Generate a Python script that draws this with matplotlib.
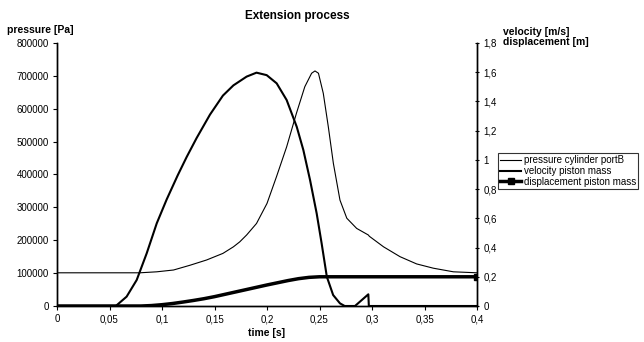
import matplotlib
matplotlib.use("Agg")
import matplotlib.pyplot as plt
from matplotlib.ticker import FuncFormatter
import numpy as np

plt.rcParams['font.family'] = ['Liberation Sans', 'DejaVu Sans']

# pressure at port B [Pa]
t_p = [0, 0.079, 0.095, 0.111, 0.1267, 0.1425, 0.158, 0.168, 0.174, 0.1806,
       0.19, 0.2, 0.209, 0.2187, 0.228, 0.236, 0.2425, 0.2457, 0.249, 0.2536,
       0.2584, 0.2632, 0.2695, 0.276, 0.2854, 0.2965, 0.2975, 0.311, 0.3267,
       0.3425, 0.3584, 0.3775, 0.4]
p = [101000, 101000, 104000, 109500, 124000, 140000, 160000, 180000, 195000,
     216000, 251000, 312000, 393000, 484000, 586000, 667000, 708000, 715000,
     708000, 647000, 545000, 434000, 322000, 267000, 236000, 216000, 212000,
     180000, 150000, 128000, 115000, 104000, 101000]

# piston velocity [m/s]
t_v = [0, 0.056, 0.0663, 0.0759, 0.0854, 0.095, 0.1045, 0.115, 0.1235, 0.133,
       0.1457, 0.158, 0.168, 0.1806, 0.19, 0.1997, 0.2092, 0.2187, 0.2283,
       0.2346, 0.241, 0.2473, 0.252, 0.257, 0.263, 0.2695, 0.274, 0.2838,
       0.2965, 0.297, 0.4]
v = [0, 0, 0.064, 0.178, 0.36, 0.566, 0.73, 0.895, 1.02, 1.15, 1.31, 1.44,
     1.51, 1.57, 1.597, 1.58, 1.524, 1.41, 1.227, 1.068, 0.862, 0.634, 0.43,
     0.2, 0.075, 0.018, 0, 0, 0.08, 0, 0]

# piston displacement [m]
t_d = [0, 0.08, 0.09, 0.1, 0.11, 0.12, 0.13, 0.14, 0.15, 0.16, 0.17, 0.18,
       0.19, 0.2, 0.21, 0.22, 0.23, 0.24, 0.25, 0.26, 0.4]
d = [0, 0, 0.003, 0.009, 0.017, 0.027, 0.038, 0.05, 0.064, 0.08, 0.096, 0.112,
     0.128, 0.144, 0.159, 0.174, 0.187, 0.196, 0.2, 0.2, 0.2]


def comma(x, pos):
    s = ('%.2f' % x).rstrip('0').rstrip('.')
    return s.replace('.', ',')


fig = plt.figure(figsize=(6.44, 3.42), dpi=100)
ax = fig.add_axes([57 / 644, 36 / 342, 420 / 644, 263 / 342])
ax2 = ax.twinx()

lp, = ax.plot(t_p, p, color='black', lw=0.8)
lv, = ax2.plot(t_v, v, color='black', lw=1.5)
ld, = ax2.plot(t_d, d, color='black', lw=2.5, marker='s', ms=4,
               markevery=[len(t_d) - 1])

ax.set_xlim(0, 0.4)
ax.set_ylim(0, 800000)
ax2.set_ylim(0, 1.8)
ax.set_xticks(np.arange(0, 0.401, 0.05))
ax.set_yticks(np.arange(0, 800001, 100000))
ax2.set_yticks(np.arange(0, 1.801, 0.2))
ax.xaxis.set_major_formatter(FuncFormatter(comma))
ax2.yaxis.set_major_formatter(FuncFormatter(comma))

for a in (ax, ax2):
    a.spines['top'].set_visible(False)
    for s in a.spines.values():
        s.set_linewidth(1.0)
ax.tick_params(axis='both', labelsize=7, length=3, width=0.8, pad=3)
ax2.tick_params(axis='y', labelsize=7, length=3, width=0.8, pad=3,
                direction='inout')

ax.set_xlabel('time [s]', fontsize=7.5, fontweight='bold', labelpad=3)
fig.text(297 / 644, 1 - 16 / 342, 'Extension process', ha='center',
         va='center', fontsize=8.5, fontweight='bold')
fig.text(7 / 644, 1 - 30 / 342, 'pressure [Pa]', ha='left', va='center',
         fontsize=7.5, fontweight='bold')
fig.text(503 / 644, 1 - 37 / 342, 'velocity [m/s]\ndisplacement [m]',
         ha='left', va='center', fontsize=7.5, fontweight='bold',
         linespacing=1.0)

leg = fig.legend([lp, lv, ld],
                 ['pressure cylinder portB', 'velocity piston mass',
                  'displacement piston mass'],
                 loc='upper left', bbox_to_anchor=(498 / 644, 1 - 153 / 342),
                 fontsize=7, frameon=True, fancybox=False, borderpad=0.2,
                 handlelength=2.2, handletextpad=0.3, labelspacing=0.1,
                 borderaxespad=0)
leg.get_frame().set_edgecolor('black')
leg.get_frame().set_linewidth(0.8)

fig.savefig('out.png', dpi=100)
